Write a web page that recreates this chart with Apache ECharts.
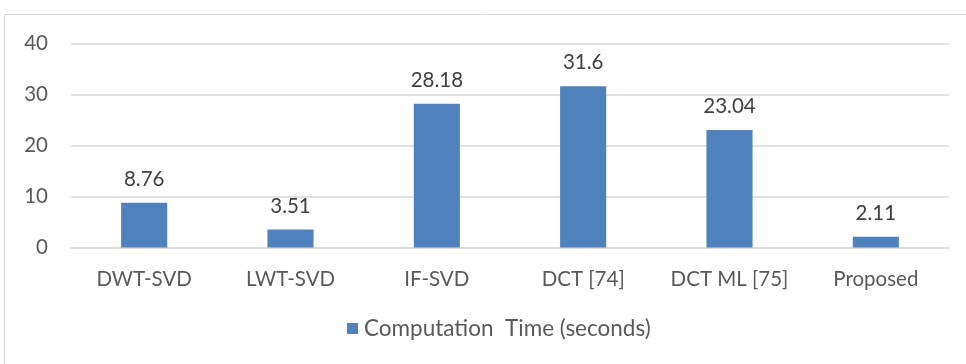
<!DOCTYPE html>
<html>
<head>
<meta charset="utf-8">
<script src="https://cdn.jsdelivr.net/npm/echarts@6/dist/echarts.min.js"></script>
<style>
html,body{margin:0;padding:0;background:#fff;}
#chart{width:966px;height:364px;}
</style>
</head>
<body>
<div id="chart"></div>
<script>
const categories = ['DWT-SVD', 'LWT-SVD', 'IF-SVD', 'DCT [74]', 'DCT ML [75]', 'Proposed'];
const computationTime = [8.76, 3.51, 28.18, 31.6, 23.04, 2.11];
const seriesName = 'Computation  Time (seconds)';
const yTicks = [0, 10, 20, 30, 40];

const FONT = 'Lato, "Liberation Sans Narrow", sans-serif';
const chart = echarts.init(document.getElementById('chart'), null, {renderer: 'canvas'});
chart.setOption({
  animation: false,
  backgroundColor: '#ffffff',
  graphic: [{
    type: 'rect',
    shape: {x: 4.5, y: 14.5, width: 1000, height: 400},
    style: {fill: 'none', stroke: '#D9D9D9', lineWidth: 1},
    silent: true,
    z: -1
  }],
  grid: {left: 71, right: 17, top: 43.5, bottom: 116.5, containLabel: false},
  legend: {
    bottom: 19,
    left: 342,
    itemWidth: 11,
    itemHeight: 11,
    icon: 'rect',
    itemGap: 4,
    textStyle: {color: '#595959', fontSize: 22.5, fontFamily: FONT, padding: [0, 0, 0, 1]},
    data: [seriesName]
  },
  xAxis: {
    type: 'category',
    data: categories,
    axisLine: {show: true, lineStyle: {color: '#D9D9D9', width: 1.5}},
    axisTick: {show: false},
    axisLabel: {color: '#595959', fontSize: 20.5, fontFamily: FONT, margin: 21, interval: 0}
  },
  yAxis: {
    type: 'value',
    min: yTicks[0],
    max: yTicks[yTicks.length - 1],
    interval: 10,
    axisLine: {show: false},
    axisTick: {show: false},
    splitLine: {lineStyle: {color: '#D9D9D9', width: 1.5}},
    axisLabel: {color: '#595959', fontSize: 20.5, fontFamily: FONT, margin: 23}
  },
  series: [{
    name: seriesName,
    type: 'bar',
    data: computationTime,
    barWidth: '31.5%',
    itemStyle: {color: '#4F81BD'},
    label: {
      show: true,
      position: 'top',
      distance: 13,
      color: '#404040',
      fontSize: 20.5,
      fontFamily: FONT
    }
  }]
});
</script>
</body>
</html>
